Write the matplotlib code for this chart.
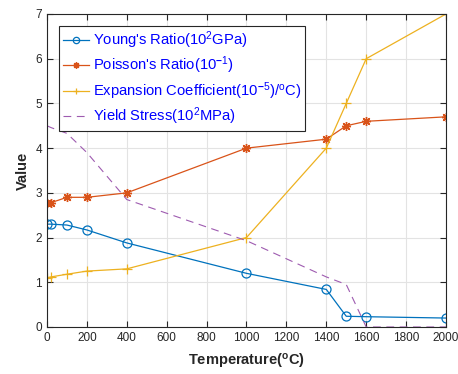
import matplotlib
matplotlib.use('Agg')
from matplotlib import pyplot as plt

plt.rcParams['font.family'] = ['Liberation Sans', 'DejaVu Sans']
plt.rcParams['mathtext.fontset'] = 'custom'
plt.rcParams['mathtext.rm'] = 'Liberation Sans'
plt.rcParams['mathtext.it'] = 'Liberation Sans:italic'
plt.rcParams['mathtext.bf'] = 'Liberation Sans:bold'

# data
temperature = [0, 20, 100, 200, 400, 1000, 1400, 1500, 1600, 2000]
youngs = [2.3, 2.3, 2.28, 2.17, 1.88, 1.2, 0.84, 0.24, 0.23, 0.2]
poisson = [2.78, 2.78, 2.9, 2.9, 3.0, 4.0, 4.2, 4.5, 4.6, 4.7]
expansion = [1.1, 1.12, 1.18, 1.25, 1.3, 2.0, 4.0, 5.0, 6.0, 7.0]
yield_stress = [4.5, 4.46, 4.33, 3.9, 2.85, 1.93, 1.12, 0.95, 0.0, 0.0]

labels = [r"Young's Ratio(10$^2$GPa)",
          r"Poisson's Ratio(10$^{\mathbf{-}1}$)",
          r"Expansion Coefficient(10$^{\mathbf{-}5}$)/$^{\rm o}$C)",
          r"Yield Stress(10$^2$MPa)"]
colors = ['#0072BD', '#D95319', '#EDB120', '#9E5BB0']

fig = plt.figure(figsize=(4.58, 3.74), dpi=100)
ax = fig.add_axes([0.1026, 0.1257, 0.8712, 0.8369])

ax.plot(temperature, youngs, '-o', color=colors[0], lw=0.9, ms=6.5,
        mfc='none', mew=0.9, label=labels[0])
ax.plot(temperature, poisson, '-', marker=(8, 2, 0), color=colors[1], lw=0.9,
        ms=6.5, mew=1.0, label=labels[1])
ax.plot(temperature, expansion, '-+', color=colors[2], lw=0.9, ms=7,
        mew=0.9, label=labels[2])
ax.plot(temperature, yield_stress, '--', color=colors[3], lw=0.8,
        dashes=(7, 5), label=labels[3])

ax.set_xlim(0, 2000)
ax.set_ylim(0, 7)
ax.set_xticks(range(0, 2001, 200))
ax.set_yticks(range(0, 8))
ax.grid(True, color='#e3e3e3', lw=0.8)
ax.set_axisbelow(True)
ax.tick_params(direction='in', top=True, right=True, labelsize=8.5,
               colors='#262626', length=4, width=0.8)
for s in ax.spines.values():
    s.set_color('#262626')
    s.set_linewidth(0.8)

ax.set_xlabel(r'Temperature($^{\mathbf{o}}$C)', fontsize=10.5,
              fontweight='bold', color='#262626', labelpad=6)
ax.set_ylabel('Value', fontsize=10.5, fontweight='bold', color='#262626',
              labelpad=4)

leg = ax.legend(loc='upper left', bbox_to_anchor=(0.03, 0.962), fontsize=10.6,
                labelcolor='#0000FF', frameon=True, fancybox=False,
                edgecolor='#262626', framealpha=1, handlelength=1.8,
                handletextpad=0.25, borderpad=0.25, labelspacing=0.25,
                borderaxespad=0, markerscale=0.7)
leg.get_frame().set_linewidth(0.8)

fig.savefig('out.png', dpi=100)
